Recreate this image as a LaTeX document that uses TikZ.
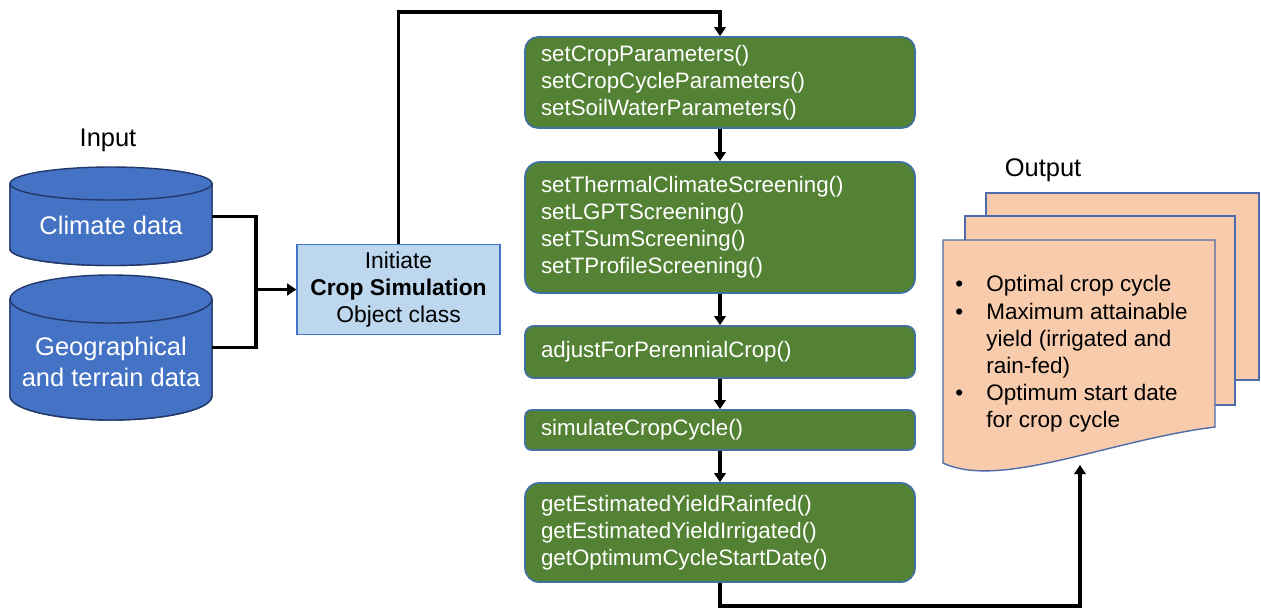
\documentclass[tikz,border=0pt]{standalone}
\usepackage{fontspec}
\setmainfont{Liberation Sans}
\usetikzlibrary{arrows.meta}

\definecolor{dbblue}{HTML}{4472C4}
\definecolor{dbedge}{HTML}{22386A}
\definecolor{initfill}{HTML}{BDD7EE}
\definecolor{initedge}{HTML}{4472C4}
\definecolor{stepgreen}{HTML}{548235}
\definecolor{stepedge}{HTML}{41719C}
\definecolor{docfill}{HTML}{F8CBAD}
\definecolor{docedge}{HTML}{4F6BAA}

\begin{document}
\begin{tikzpicture}[x=0.02cm, y=-0.02cm,
  wire/.style={line width=2pt, black},
  flow/.style={wire, -{Triangle[length=5.2pt, width=6.6pt]}},
  dbshape/.style={fill=dbblue, draw=dbedge, line width=0.8pt},
  dbbody/.style={minimum width=4.04cm, inner sep=0pt},
  dbtext/.style={text=white, align=center, font=\fontsize{14.5}{17.6}\selectfont},
  heading/.style={font=\fontsize{14.5}{17}\selectfont},
  initbox/.style={draw=initedge, fill=initfill, line width=0.8pt,
    minimum width=4.06cm, minimum height=1.8cm, align=center,
    font=\fontsize{13}{15.3}\selectfont},
  methodbox/.style={draw=stepedge, fill=stepgreen, line width=1pt, text=white,
    text width=7.16cm, inner xsep=0.32cm, inner ysep=0pt, align=left,
    font=\fontsize{12.7}{15.3}\selectfont},
  docpage/.style={fill=docfill, draw=docedge, line width=0.8pt},
  doctext/.style={align=left, inner sep=0pt, font=\fontsize{12.8}{15.45}\selectfont}
]
\useasboundingbox (0,0) rectangle (1261,610);

% ---- input data stores (cylinders) ----
\path[dbshape] (10,183.5) -- (10,249)
  arc[start angle=180, end angle=360, x radius=2.02cm, y radius=0.33cm]
  -- (212,183.5) -- cycle;
\draw[dbshape] (10,183.5) -- (10,249)
  arc[start angle=180, end angle=360, x radius=2.02cm, y radius=0.33cm]
  -- (212,183.5);
\draw[dbshape] (111,183.5) ellipse [x radius=2.02cm, y radius=0.33cm];

\path[dbshape] (10,299) -- (10,396)
  arc[start angle=180, end angle=360, x radius=2.02cm, y radius=0.48cm]
  -- (212,299) -- cycle;
\draw[dbshape] (10,299) -- (10,396)
  arc[start angle=180, end angle=360, x radius=2.02cm, y radius=0.48cm]
  -- (212,299);
\draw[dbshape] (111,299) ellipse [x radius=2.02cm, y radius=0.48cm];

\node[dbbody, minimum height=1.31cm] (clim) at (111,216.25) {};
\node[dbbody, minimum height=1.94cm] (geo) at (111,347.5) {};
\node[dbtext] (climtxt) at (111,225) {Climate data};
\node[dbtext] (geotxt) at (111,361.5) {Geographical\\and terrain data};
\node[heading] (inlabel) at (108,140) {Input};

% ---- simulation object ----
\node[initbox] (init) at (398.5,289.5) {Initiate\\\textbf{Crop Simulation}\\Object class};

% ---- method chain ----
\node[methodbox, minimum height=1.82cm, rounded corners=0.26cm] (m1) at (720,82.5)
  {setCropParameters()\\setCropCycleParameters()\\setSoilWaterParameters()};
\node[methodbox, minimum height=2.62cm, rounded corners=0.3cm] (m2) at (720,227.5)
  {setThermalClimateScreening()\\setLGPTScreening()\\setTSumScreening()\\setTProfileScreening()};
\node[methodbox, minimum height=1.04cm, rounded corners=0.17cm] (m3) at (720,352)
  {adjustForPerennialCrop()};
\node[methodbox, minimum height=0.8cm, rounded corners=0.13cm] (m4) at (720,430)
  {simulateCropCycle()};
\node[methodbox, minimum height=1.98cm, rounded corners=0.28cm] (m5) at (720,532.5)
  {getEstimatedYieldRainfed()\\getEstimatedYieldIrrigated()\\getOptimumCycleStartDate()};

% ---- output documents ----
\draw[docpage] (986,193) rectangle (1259,380);
\draw[docpage] (965,216) rectangle (1235,405);
\draw[docpage] (943,240) -- (1215,240) -- (1215,427)
  .. controls (1110,440) and (1000,490) .. (943,463) -- cycle;
\node[heading] (outlabel) at (1043,170) {Output};
\node[doctext, anchor=west] (outtxt) at (955,354)
  {\makebox[0.62cm][l]{\textbullet}Optimal crop cycle\\
   \makebox[0.62cm][l]{\textbullet}Maximum attainable\\
   \makebox[0.62cm][l]{}yield (irrigated and\\
   \makebox[0.62cm][l]{}rain-fed)\\
   \makebox[0.62cm][l]{\textbullet}Optimum start date\\
   \makebox[0.62cm][l]{}for crop cycle};
\coordinate (docin) at (1080,465);

% ---- connectors ----
\coordinate (join) at (256,289.5);
\coordinate (bendtop) at (0,12);
\coordinate (bendbot) at (0,606);
\draw[wire] (clim.east) -| (join);
\draw[wire] (geo.east) -| (join);
\draw[flow] (join) -- (init.west);
\draw[flow] (init.north) -- (init.north |- bendtop) -| (m1.north);
\draw[flow] (m1) -- (m2);
\draw[flow] (m2) -- (m3);
\draw[flow] (m3) -- (m4);
\draw[flow] (m4) -- (m5);
\draw[flow] (m5.south) -- (m5.south |- bendbot) -| (docin);
\end{tikzpicture}
\end{document}
